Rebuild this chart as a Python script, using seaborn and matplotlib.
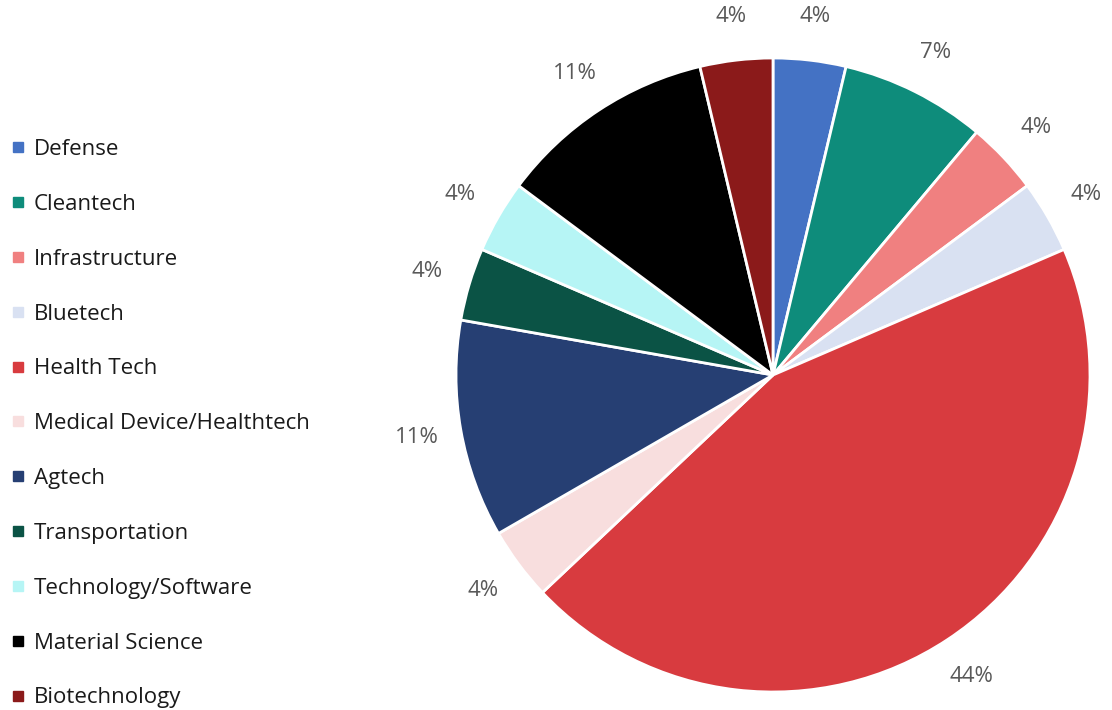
import matplotlib
matplotlib.use("Agg")
import matplotlib.pyplot as plt
from matplotlib.lines import Line2D
import seaborn as sns

categories = ["Defense", "Cleantech", "Infrastructure", "Bluetech", "Health Tech",
              "Medical Device/Healthtech", "Agtech", "Transportation",
              "Technology/Software", "Material Science", "Biotechnology"]
counts = [1, 2, 1, 1, 12, 1, 3, 1, 1, 3, 1]
colors = ["#4472C4", "#0E8C7B", "#F08080", "#D9E1F2", "#D83B3F", "#F8DEDE",
          "#263F73", "#0B5345", "#B6F5F5", "#000000", "#8B1A1A"]

sns.set_theme(style="white")
plt.rcParams["font.family"] = ["Open Sans", "DejaVu Sans"]

fig = plt.figure(figsize=(11.12, 7.1), dpi=100)
ax = fig.add_axes([456 / 1112, 18 / 710, 634 / 1112, 634 / 710])

wedges, texts = ax.pie(
    counts, colors=colors, startangle=90, counterclock=False,
    labels=[f"{c / sum(counts) * 100:.0f}%" for c in counts],
    labeldistance=1.14,
    wedgeprops=dict(edgecolor="white", linewidth=2),
    textprops=dict(color="#595959", fontsize=16),
)
for t in texts:
    t.set_ha("center")
    t.set_va("center")
ax.set_xlim(-1, 1)
ax.set_ylim(-1, 1)
ax.set_aspect("equal")

handles = [Line2D([], [], marker="s", linestyle="", markersize=7.5,
                  markerfacecolor=c, markeredgecolor=c) for c in colors]
fig.legend(handles, categories, loc="upper left",
           bbox_to_anchor=(4.7 / 1112, 1 - 139 / 710),
           frameon=False, fontsize=16, labelspacing=1.523, handletextpad=0.1,
           handlelength=1.2, borderpad=0, borderaxespad=0, labelcolor="#1a1a1a")

fig.savefig("out.png", dpi=100, facecolor="white")
